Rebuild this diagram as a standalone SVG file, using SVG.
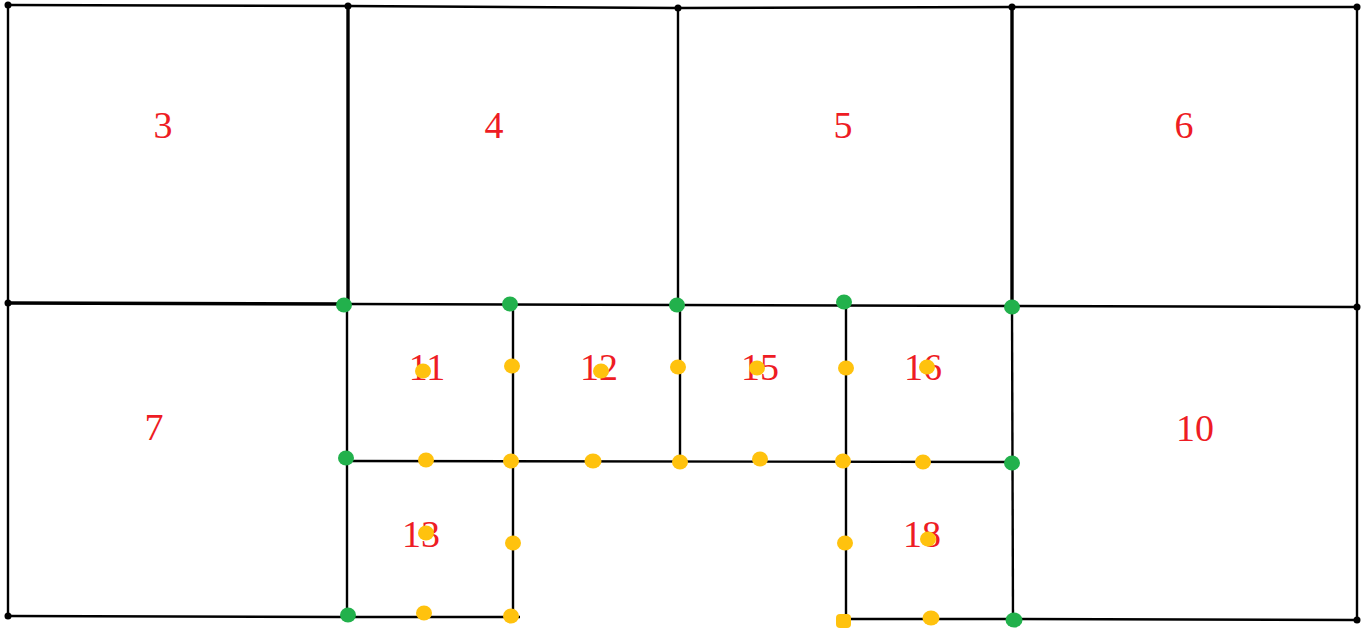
<svg xmlns="http://www.w3.org/2000/svg" width="1361" height="629" viewBox="0 0 1361 629">
<style>
.ln{stroke:#000;stroke-width:2.4;fill:none}
.th{stroke:#000;stroke-width:3.4;fill:none}
.lb{font-family:"Liberation Serif","Times New Roman",serif;font-size:38px;fill:#ee1c24;text-anchor:middle}
.g{fill:#22b14c}
.y{fill:#ffc20e}
.k{fill:#000}
</style>
<rect width="1361" height="629" fill="#fff"/>
<g id="connectors">
<path class="ln" d="M8,5 L348,6 L678,8 L1012,7 L1357,7"/>
<path class="ln" d="M8,5 L8,616"/>
<path class="ln" d="M1357,7 L1357,620"/>
<path class="ln" d="M8,616 L348,617"/>
<path class="ln" d="M1013,619 L1357,620"/>
<path class="th" d="M8,303 L348,304"/>
<path class="ln" d="M348,304 L678,305 L1012,306 L1357,307"/>
<path class="th" d="M348,6 L348,304"/>
<path class="ln" d="M678,8 L678,305"/>
<path class="th" d="M1012,7 L1012,306"/>
<path class="ln" d="M347,304 L347,617"/>
<path class="ln" d="M1012,306 L1013,619"/>
<path class="ln" d="M513,304 L513,617"/>
<path class="ln" d="M680,305 L680,462"/>
<path class="ln" d="M846,303 L846,620"/>
<path class="ln" d="M347,461 L1012,462"/>
<path class="ln" d="M348,617 L520,617"/>
<path class="ln" d="M846,619 L1013,619"/>
</g>
<g id="node-3"><text class="lb" x="163" y="138">3</text></g>
<g id="node-4"><text class="lb" x="494" y="138">4</text></g>
<g id="node-5"><text class="lb" x="843" y="138">5</text></g>
<g id="node-6"><text class="lb" x="1184" y="138">6</text></g>
<g id="node-7"><text class="lb" x="154" y="440">7</text></g>
<g id="node-10"><text class="lb" x="1195" y="441">10</text></g>
<g id="node-11"><text class="lb" x="427" y="380">11</text></g>
<g id="node-12"><text class="lb" x="599" y="380">12</text></g>
<g id="node-15"><text class="lb" x="760" y="380">15</text></g>
<g id="node-16"><text class="lb" x="923" y="380">16</text></g>
<g id="node-13"><text class="lb" x="421" y="547">13</text></g>
<g id="node-18"><text class="lb" x="922" y="547">18</text></g>
<g id="corner-dots">
<circle class="k" cx="8" cy="5" r="3.5"/>
<circle class="k" cx="348" cy="6" r="3.5"/>
<circle class="k" cx="678" cy="8" r="3.5"/>
<circle class="k" cx="1012" cy="7" r="3.5"/>
<circle class="k" cx="1357" cy="7" r="3.5"/>
<circle class="k" cx="8" cy="303" r="3.5"/>
<circle class="k" cx="1357" cy="307" r="3.5"/>
<circle class="k" cx="8" cy="616" r="3.5"/>
<circle class="k" cx="1357" cy="620" r="3.5"/>
</g>
<g id="green-dots">
<ellipse class="g" cx="344" cy="305" rx="8" ry="7.5"/>
<ellipse class="g" cx="510" cy="304" rx="8" ry="7.5"/>
<ellipse class="g" cx="677" cy="305" rx="8" ry="7.5"/>
<ellipse class="g" cx="844" cy="302" rx="8" ry="7.5"/>
<ellipse class="g" cx="1012" cy="307" rx="8" ry="7.5"/>
<ellipse class="g" cx="346" cy="458" rx="8" ry="7.5"/>
<ellipse class="g" cx="1012" cy="463" rx="8" ry="7.5"/>
<ellipse class="g" cx="348" cy="615" rx="8" ry="7.5"/>
<ellipse class="g" cx="1014" cy="620" rx="8.5" ry="7.5"/>
</g>
<g id="yellow-dots">
<ellipse class="y" cx="423" cy="371" rx="8" ry="7.5"/>
<ellipse class="y" cx="512" cy="366" rx="8" ry="7.5"/>
<ellipse class="y" cx="601" cy="371" rx="8" ry="7.5"/>
<ellipse class="y" cx="678" cy="367" rx="8" ry="7.5"/>
<ellipse class="y" cx="757" cy="368" rx="8" ry="7.5"/>
<ellipse class="y" cx="846" cy="368" rx="8" ry="7.5"/>
<ellipse class="y" cx="927" cy="367" rx="8" ry="7.5"/>
<ellipse class="y" cx="426" cy="460" rx="8" ry="7.5"/>
<ellipse class="y" cx="511" cy="461" rx="8" ry="7.5"/>
<ellipse class="y" cx="593" cy="461" rx="8.5" ry="7.5"/>
<ellipse class="y" cx="680" cy="462" rx="8" ry="7.5"/>
<ellipse class="y" cx="760" cy="459" rx="8" ry="7.5"/>
<ellipse class="y" cx="843" cy="461" rx="8" ry="7.5"/>
<ellipse class="y" cx="923" cy="462" rx="8" ry="7.5"/>
<ellipse class="y" cx="426" cy="533" rx="8" ry="7.5"/>
<ellipse class="y" cx="513" cy="543" rx="8" ry="7.5"/>
<ellipse class="y" cx="845" cy="543" rx="8" ry="7.5"/>
<ellipse class="y" cx="928" cy="539" rx="8" ry="7.5"/>
<ellipse class="y" cx="424" cy="613" rx="8" ry="7.5"/>
<ellipse class="y" cx="511" cy="616" rx="8" ry="7.5"/>
<rect class="y" x="836" y="614" width="15" height="14" rx="4"/>
<ellipse class="y" cx="931" cy="618" rx="8.5" ry="7.5"/>
</g>
</svg>
